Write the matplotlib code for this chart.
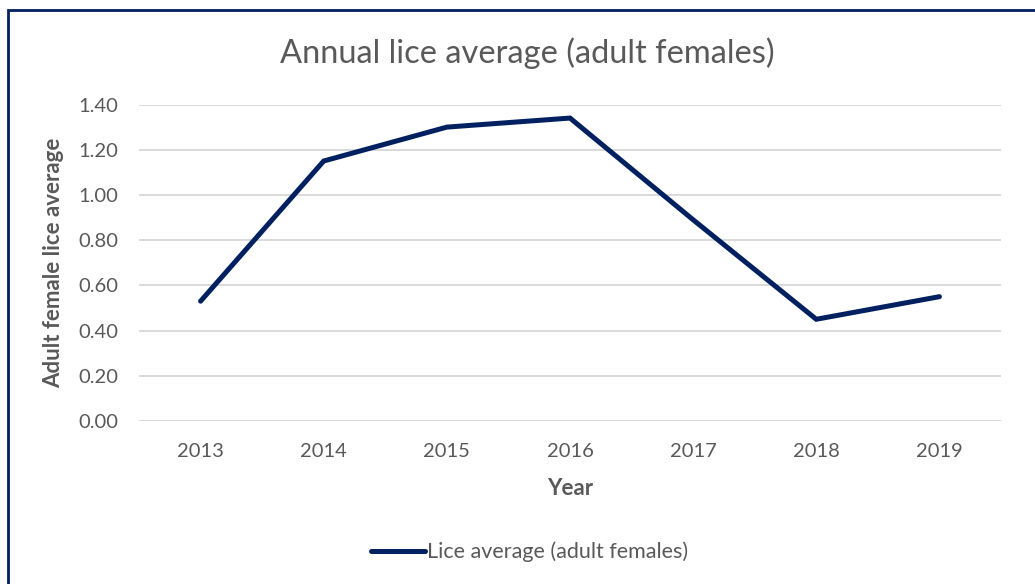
import matplotlib.pyplot as plt
from matplotlib.patches import Rectangle

# data
years = ["2013", "2014", "2015", "2016", "2017", "2018", "2019"]
lice_avg = [0.53, 1.15, 1.30, 1.34, 0.89, 0.45, 0.55]
y_ticks = [0.0, 0.2, 0.4, 0.6, 0.8, 1.0, 1.2, 1.4]

NAVY = "#002060"
GREY = "#595959"
GRID = "#d9d9d9"

plt.rcParams["font.family"] = ["Lato", "DejaVu Sans"]

W, H = 1035, 584
fig = plt.figure(figsize=(W / 100, H / 100), dpi=100)

# outer chart border (cut off at right and bottom in the reference)
fig.patches.append(Rectangle((8 / W, -0.1), 1.2, (H - 10) / H + 0.1,
                             transform=fig.transFigure, fill=False,
                             edgecolor=NAVY, linewidth=2))

ax = fig.add_axes([139 / W, (H - 421) / H, (1001 - 139) / W, (421 - 104.5) / H])

x = range(len(years))
ax.plot(x, lice_avg, color=NAVY, linewidth=3.6, solid_capstyle="round",
        solid_joinstyle="miter", label="Lice average (adult females)", zorder=3)

ax.set_xlim(-0.5, len(years) - 0.5)
ax.set_ylim(0, 1.4)
ax.set_yticks(y_ticks)
ax.set_yticklabels([f"{v:.2f}" for v in y_ticks])
ax.set_xticks(list(x))
ax.set_xticklabels(years)

ax.grid(axis="y", color=GRID, linewidth=1.4)
ax.set_axisbelow(True)
for s in ax.spines.values():
    s.set_visible(False)
ax.tick_params(length=0, labelsize=14.5, colors=GREY)
ax.tick_params(axis="x", pad=16)
ax.tick_params(axis="y", pad=15)

ax.set_xlabel("Year", fontsize=16, fontweight="bold", color=GREY, labelpad=13)
ax.set_ylabel("Adult female lice average", fontsize=16, fontweight="bold",
              color=GREY, labelpad=10)

fig.text(527 / W, 1 - 53 / H, "Annual lice average (adult females)",
         ha="center", va="center", fontsize=23.5, color=GREY)

leg = fig.legend(loc="center", bbox_to_anchor=(530 / W, 1 - 552 / H),
                 frameon=False, fontsize=15.5, handlelength=2.5,
                 handletextpad=0.1, labelcolor=GREY)

fig.savefig("out.png", dpi=100, facecolor="white")
